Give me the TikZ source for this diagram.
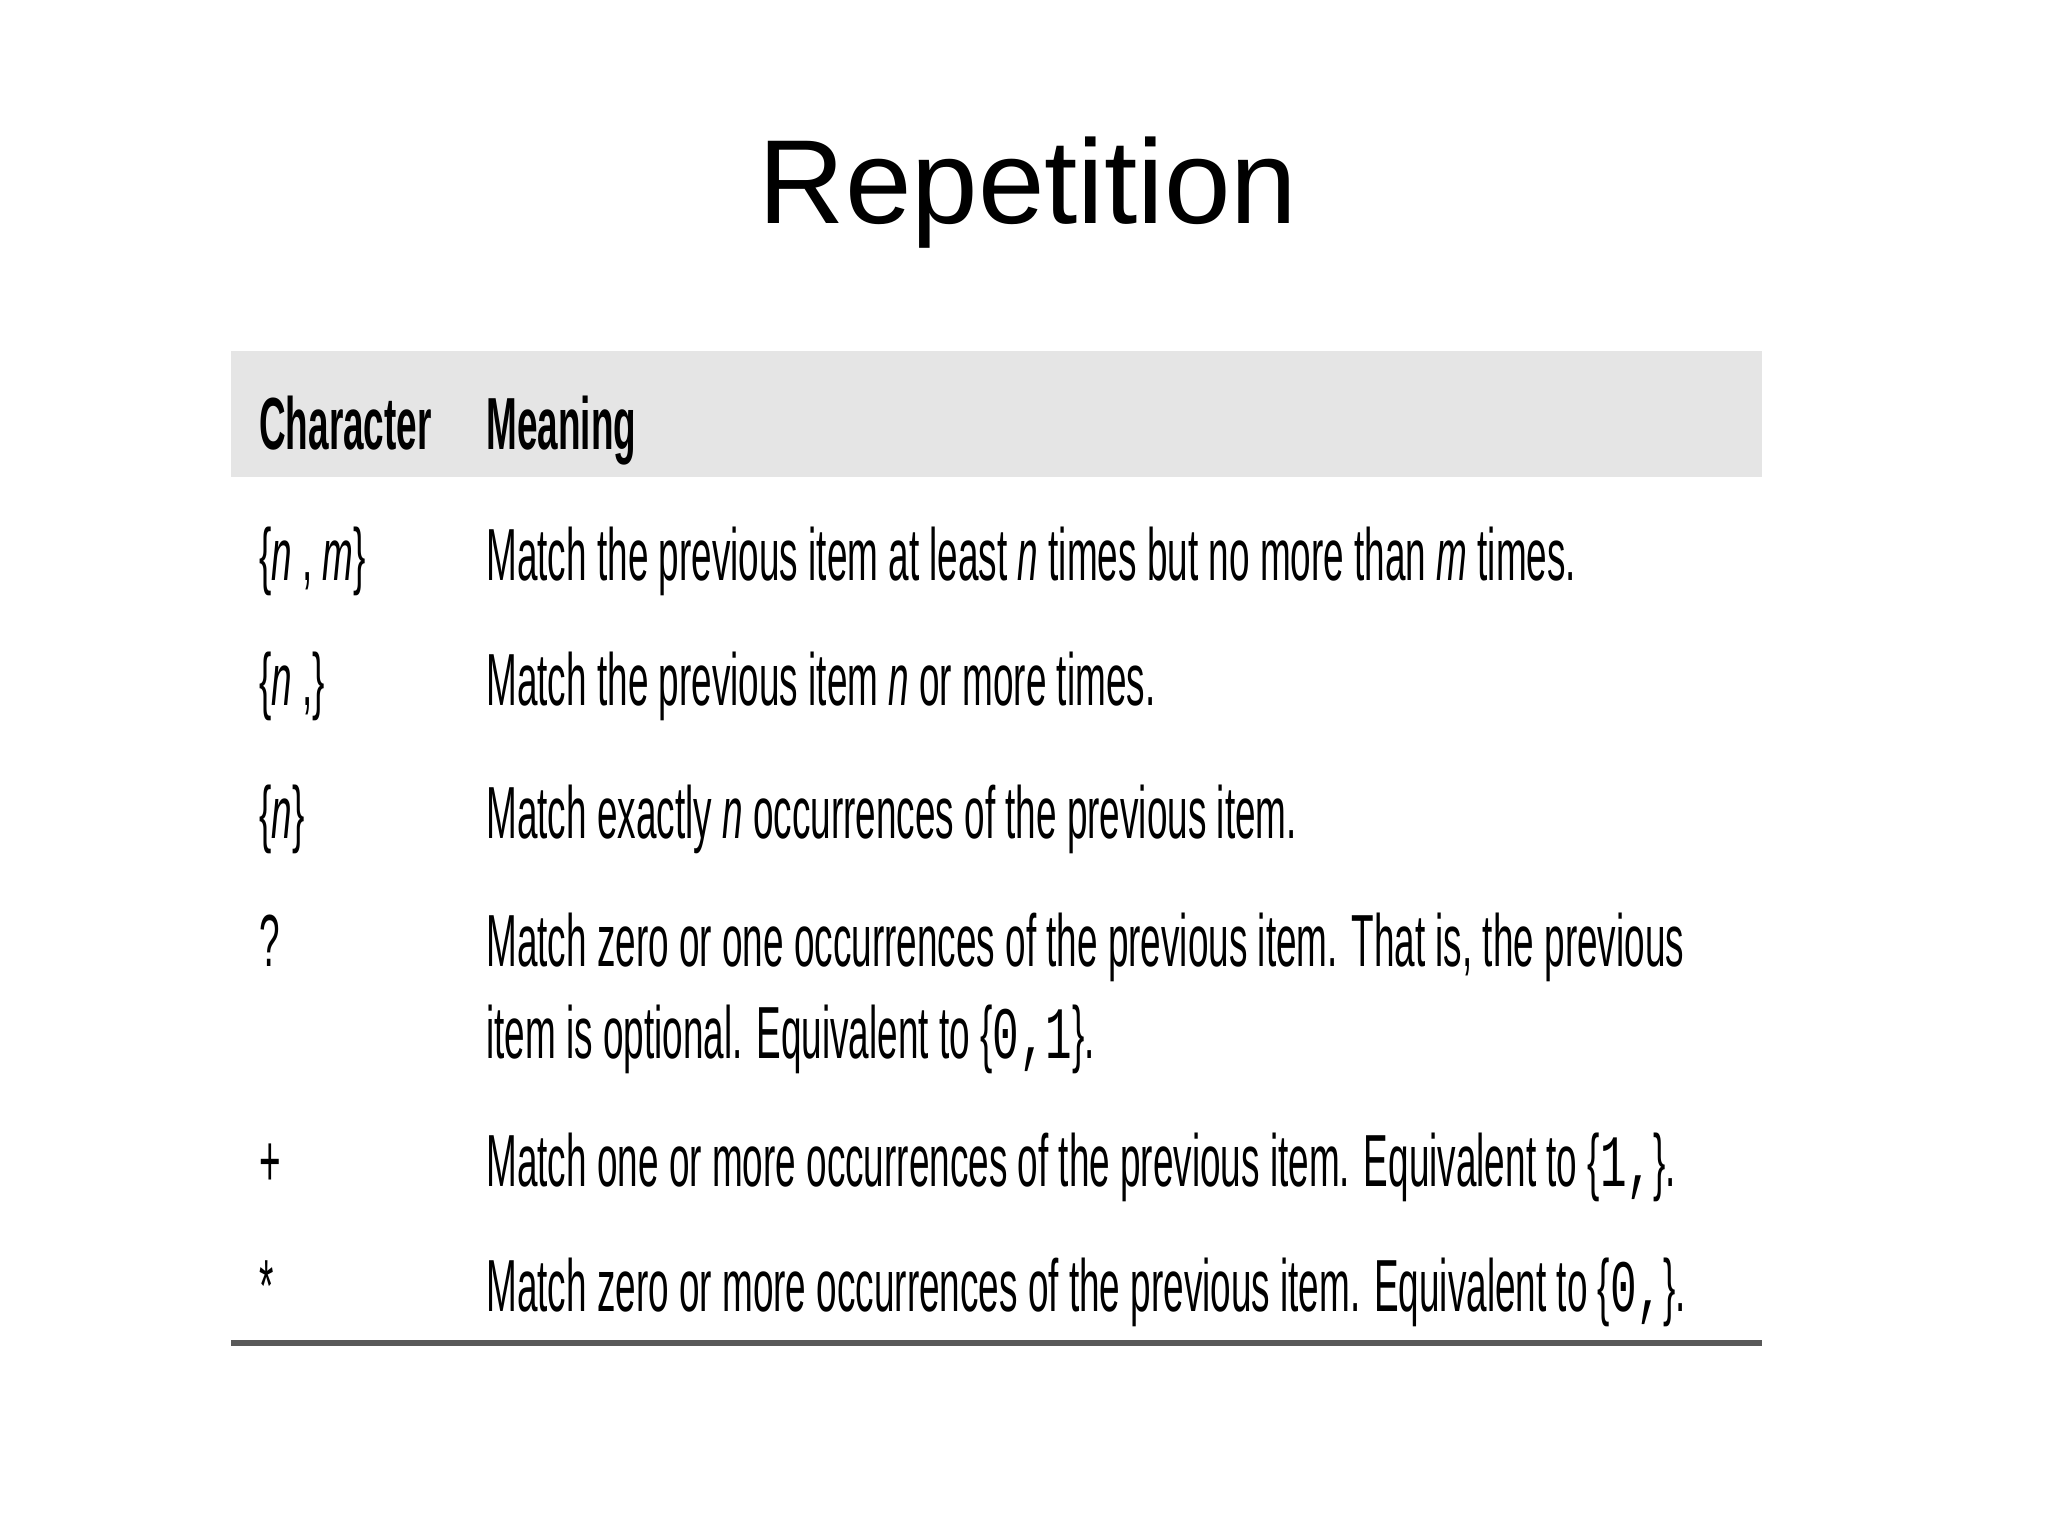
\documentclass[tikz,border=0pt]{standalone}
\usepackage{fontspec}
\setmainfont{Liberation Sans}
\newfontfamily\narrowfont[FakeStretch=0.5]{Liberation Sans}
\newfontfamily\narrowmono[FakeStretch=0.6]{Liberation Mono}
\begin{document}
\begin{tikzpicture}
        [x=0.01313cm, y=-0.01313cm,
        cell/.style={anchor=base west, inner sep=0pt, font=\narrowfont\fontsize{21}{25}\selectfont},
        head/.style={cell, font=\narrowfont\bfseries\fontsize{21}{25}\selectfont}]

        \useasboundingbox[fill=white] (0,0) rectangle (1560,1169);

        % title
        \node[font=\fontsize{34}{40}\selectfont] (title) at (783,147) {Repetition};

        % header band
        \fill[gray!20] (176,267) rectangle (1342,363);
        \node[head] (hc) at (197,342) {Character};
        \node[head] (hm) at (370,342) {Meaning};

        % characters
        \node[cell] (c1) at (197,442) {\{\textit{n} , \textit{m}\}};
        \node[cell] (c2) at (197,537) {\{\textit{n} ,\}};
        \node[cell] (c3) at (197,639) {\{\textit{n}\}};
        \node[cell] (c4) at (197,736) {?};
        \node[cell] (c5) at (197,904) {+};
        \node[cell] (c6) at (197,999) {*};

        % meanings
        \node[cell] (m1) at (370,442) {Match the previous item at least \textit{n} times but no more than \textit{m} times.};
        \node[cell] (m2) at (370,537) {Match the previous item \textit{n} or more times.};
        \node[cell] (m3) at (370,639) {Match exactly \textit{n} occurrences of the previous item.};
        \node[cell] (m4) at (370,736) {Match zero or one occurrences of the previous item. That is, the previous};
        \node[cell] (m4b) at (370,806) {item is optional. Equivalent to \{{\narrowmono 0,1}\}.};
        \node[cell] (m5) at (370,904) {Match one or more occurrences of the previous item. Equivalent to \{{\narrowmono 1,}\}.};
        \node[cell] (m6) at (370,999) {Match zero or more occurrences of the previous item. Equivalent to \{{\narrowmono 0,}\}.};

        % bottom rule
        \draw[gray!70!black, line width=1.5pt] (176,1023) -- (1342,1023);

        \end{tikzpicture}
\end{document}
